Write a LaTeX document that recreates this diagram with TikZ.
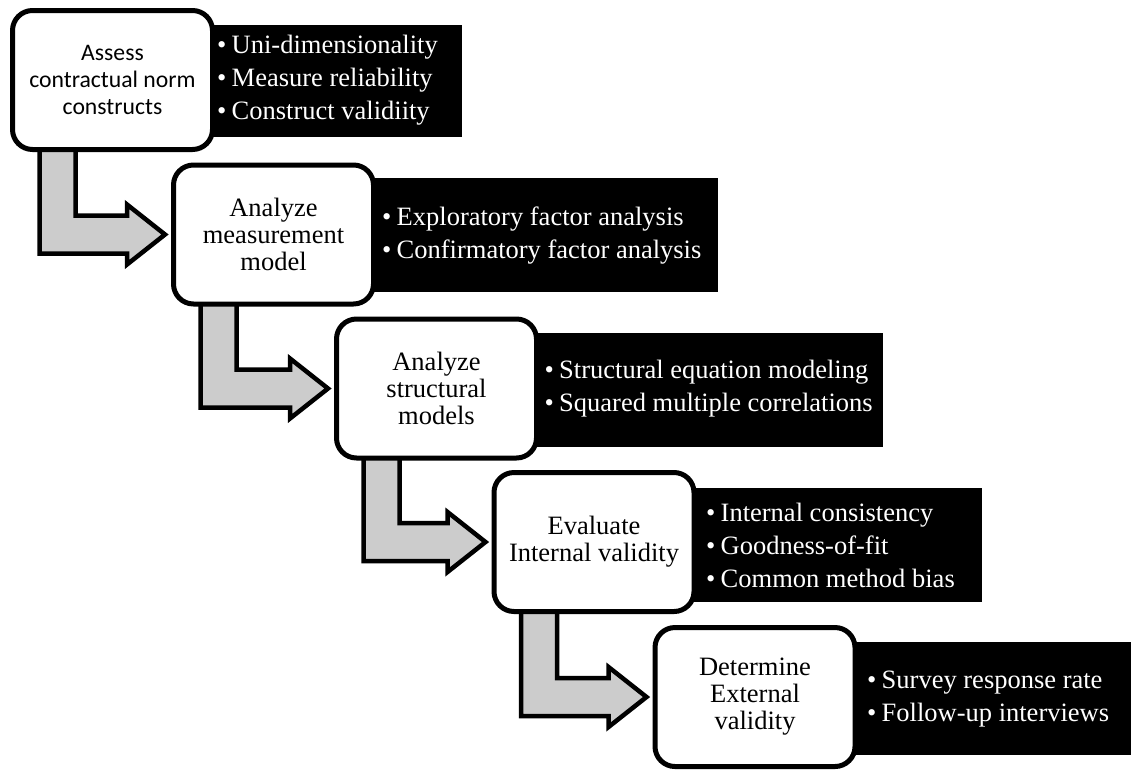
\documentclass[tikz,border=0pt]{standalone}
\usepackage{fontspec}
\setmainfont{Liberation Serif}
\newfontfamily\stepsans{Carlito}
\usetikzlibrary{calc,backgrounds}
\definecolor{flowgray}{RGB}{204,204,204}
% bullet followed by a fixed indent
\newcommand\bl{\makebox[14.5pt][l]{\textbullet}}
% bent block arrow from the bottom of one step box to the left side of the next
\newcommand\stepflow[2]{%
  \path[flowarrow] let \p1=(#1.south west), \p2=(#2.west) in
    ({\x1+29.5pt},{\y1+8pt}) -- ({\x1+29.5pt},{\y2-19pt}) --
    ({\x2-44pt},{\y2-19pt}) -- ({\x2-44pt},{\y2-30pt}) --
    ({\x2-6pt},{\y2}) --
    ({\x2-44pt},{\y2+30pt}) -- ({\x2-44pt},{\y2+19pt}) --
    ({\x1+65.5pt},{\y2+19pt}) -- ({\x1+65.5pt},{\y1+8pt}) -- cycle;}
\begin{document}
\begin{tikzpicture}[x=1pt,y=-1pt,
  stepbox/.style={draw=black, fill=white, line width=5pt, rounded corners=20pt,
    minimum width=200pt, minimum height=139pt, align=center, inner sep=0pt,
    font=\fontsize{26.5}{27}\selectfont},
  panel/.style={fill=black, draw=none, inner sep=0pt},
  bullets/.style={anchor=west, align=left, text=white, inner sep=0pt,
    font=\fontsize{26.5}{33}\selectfont},
  flowarrow/.style={fill=flowgray, draw=black, line width=4.5pt, line join=miter}]
\useasboundingbox (0,0) rectangle (1131,769);

% step boxes
\node[stepbox, font=\stepsans\fontsize{23.7}{27}\selectfont] (b1) at (112.5,80)
  {Assess\\contractual norm\\constructs};
\node[stepbox] (b2) at (273.5,234.5) {Analyze\\measurement\\model};
\node[stepbox] (b3) at (436.5,388.5) {Analyze\\structural\\models};
\node[stepbox] (b4) at (594,542) {Evaluate\\Internal validity};
\node[stepbox] (b5) at (755,697) {Determine\\External\\validity};

% black detail panels and arrows behind the boxes
\begin{pgfonlayer}{background}
\node[panel, minimum width=257pt, minimum height=112pt] (d1) at (333.5,81) {};
\node[panel, minimum width=348pt, minimum height=114pt] (d2) at (544,235) {};
\node[panel, minimum width=353pt, minimum height=114pt] (d3) at (706.5,390) {};
\node[panel, minimum width=292pt, minimum height=114pt] (d4) at (836,545) {};
\node[panel, minimum width=281pt, minimum height=113pt] (d5) at (990.5,698.5) {};
\stepflow{b1}{b2}
\stepflow{b2}{b3}
\stepflow{b3}{b4}
\stepflow{b4}{b5}
\end{pgfonlayer}

% bullet lists
\node[bullets] (t1) at (217,80)
  {\bl Uni-dimensionality\\\bl Measure reliability\\\bl Construct validiity};
\node[bullets] (t2) at (382,236)
  {\bl Exploratory factor analysis\\\bl Confirmatory factor analysis};
\node[bullets] (t3) at (544.5,389)
  {\bl Structural equation modeling\\\bl Squared multiple correlations};
\node[bullets] (t4) at (706,545)
  {\bl Internal consistency\\\bl Goodness-of-fit\\\bl Common method bias};
\node[bullets] (t5) at (867,699)
  {\bl Survey response rate\\\bl Follow-up interviews};
\end{tikzpicture}
\end{document}
